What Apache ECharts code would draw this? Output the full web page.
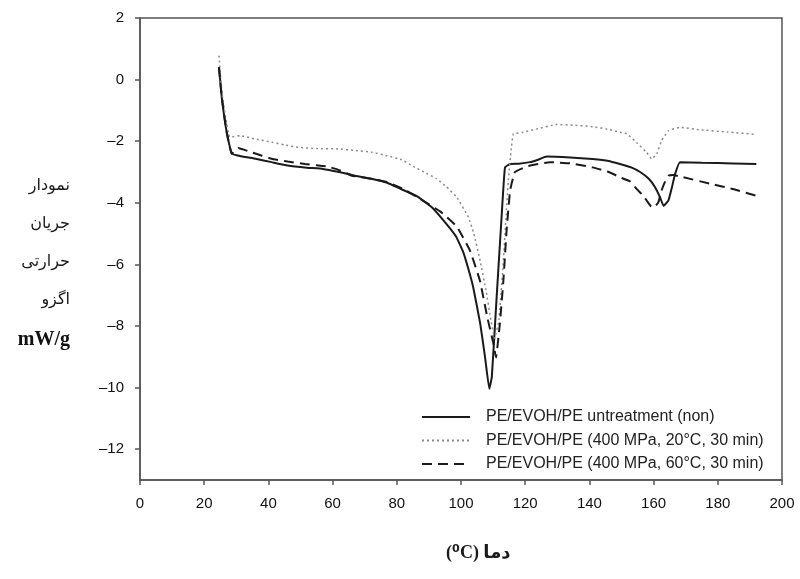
<!DOCTYPE html>
<html>
<head>
<meta charset="utf-8">
<script src="https://cdn.jsdelivr.net/npm/echarts@6/dist/echarts.min.js"></script>
<style>
  html, body { margin: 0; padding: 0; background: #ffffff; }
  #chart { width: 800px; height: 579px; }
</style>
</head>
<body>
<div id="chart"></div>
<script>
// نمونه بدون فرآوری
var tempNon = [24.6, 25.5, 27, 28.6, 32, 36, 41, 46, 52, 57, 62, 67, 72, 77, 81, 86, 91, 95.5, 98.5, 100.7,
  102.3, 103.8, 106, 107.5, 108.8, 109.6, 111.1, 112.7, 113.7, 115.3, 118, 121.5, 124, 126.7, 134, 141, 146,
  149.5, 153, 155.8, 158.5, 160.5, 162, 163.1, 164.6, 165.7, 166.7, 168.2, 175, 185, 192];
var flowNon = [0.4, -0.6, -1.7, -2.41, -2.5, -2.57, -2.68, -2.79, -2.86, -2.9, -3.0, -3.12, -3.22, -3.35, -3.54, -3.77, -4.15, -4.69, -5.1, -5.6,
  -6.15, -6.74, -7.93, -9.02, -10.04, -9.66, -7.07, -4.36, -2.85, -2.74, -2.73, -2.68, -2.6, -2.5, -2.53, -2.58, -2.64,
  -2.74, -2.85, -3.0, -3.22, -3.5, -3.82, -4.1, -3.93, -3.5, -3.06, -2.68, -2.7, -2.72, -2.74];

// 400 MPa, 20 درجه
var temp20 = [24.6, 25.5, 26.8, 28, 31.2, 36, 41, 45, 49.3, 55, 61.8, 67, 72.2, 76, 81.5, 85.1, 88.5, 92.4, 95.5, 98.7,
  102.3, 104, 106, 107.8, 109.3, 110.5, 111.8, 113, 114, 114.8, 115.6, 116.3, 119, 123.6, 129.8, 135, 141.2, 146,
  149.5, 151.6, 154.7, 157.8, 159.4, 161, 162.5, 164.6, 168.2, 174.5, 183, 192];
var flow20 = [0.78, -0.4, -1.3, -1.87, -1.82, -1.93, -2.03, -2.12, -2.2, -2.24, -2.25, -2.3, -2.36, -2.45, -2.6, -2.82, -3.0, -3.22, -3.48, -3.82,
  -4.47, -5.0, -5.9, -6.85, -7.8, -8.4, -7.8, -6.2, -4.5, -3.2, -2.3, -1.76, -1.72, -1.6, -1.46, -1.48, -1.53, -1.62,
  -1.71, -1.76, -2.04, -2.36, -2.58, -2.41, -1.98, -1.66, -1.55, -1.63, -1.7, -1.78];

// 400 MPa, 60 درجه
var temp60 = [24.6, 25.5, 27, 28.6, 30.6, 32.5, 34.8, 38, 41, 46, 51.4, 55, 58.7, 61.8, 64, 66, 72, 77, 82, 87.2,
  93.5, 98.7, 102.8, 105.9, 108.2, 110.1, 110.9, 112.1, 113.2, 114.2, 115.3, 116.8, 120.5, 127.7, 134, 141,
  146, 149.5, 152.6, 154.7, 156.8, 158.2, 159.5, 160.5, 161.5, 162.5, 163.5, 164.6, 166, 169.2, 177.6, 185, 192];
var flow60 = [0.4, -0.6, -1.7, -2.41, -2.22, -2.28, -2.36, -2.47, -2.57, -2.66, -2.74, -2.78, -2.83, -2.93, -3.02, -3.12, -3.22, -3.33, -3.55, -3.87,
  -4.28, -4.77, -5.55, -6.53, -7.72, -8.57, -9.02, -7.93, -6.53, -4.9, -3.6, -3.0, -2.82, -2.68, -2.72, -2.85,
  -3.0, -3.17, -3.3, -3.55, -3.77, -3.98, -4.15, -4.12, -3.98, -3.6, -3.33, -3.12, -3.1, -3.17, -3.38, -3.56, -3.77];

var seriesNames = [
  'PE/EVOH/PE untreatment (non)',
  'PE/EVOH/PE (400 MPa, 20°C, 30 min)',
  'PE/EVOH/PE (400 MPa, 60°C, 30 min)'
];
var yTicks = [-12, -10, -8, -6, -4, -2, 0, 2];
var yNameLines = ['نمودار', 'جریان', 'حرارتی', 'اگزو'];

function pairs(xs, ys) {
  return xs.map(function (x, i) { return [x, ys[i]]; });
}

var myChart = echarts.init(document.getElementById('chart'));

var yGraphics = yNameLines.map(function (t, i) {
  return {
    type: 'text',
    right: 730,
    top: 178 + i * 38,
    style: { text: t, font: '16px "DejaVu Sans"', fill: '#1a1a1a', textAlign: 'right' }
  };
});
yGraphics.push({
  type: 'text',
  right: 730,
  top: 330,
  style: { text: 'mW/g', font: 'bold 20px "Liberation Serif"', fill: '#111', textAlign: 'right' }
});
yGraphics.push({
  type: 'text',
  left: 446,
  top: 544,
  style: { text: '(⁰C) دما', font: 'bold 18px "Liberation Serif", "DejaVu Sans"', fill: '#1a1a1a' }
});

var lineCol = '#555';
var labelStyle = {
  fontFamily: 'Liberation Sans',
  fontSize: 15,
  color: '#111',
  margin: 16,
  formatter: function (v) { return String(v).replace('-', '–'); }
};

var option = {
  backgroundColor: '#ffffff',
  animation: false,
  grid: { left: 140, right: 18, top: 18, bottom: 99, show: true, borderColor: lineCol, borderWidth: 1.5 },
  xAxis: {
    type: 'value', min: 0, max: 200, interval: 20,
    axisLine: { show: true, onZero: false, lineStyle: { color: lineCol, width: 1.5 } },
    axisTick: { show: true, length: 5, lineStyle: { color: lineCol, width: 1.5 } },
    splitLine: { show: false },
    axisLabel: labelStyle
  },
  yAxis: {
    type: 'value', min: -13, max: 2,
    axisLine: { show: true, onZero: false, lineStyle: { color: lineCol, width: 1.5 } },
    axisTick: { show: true, length: 5, customValues: yTicks, lineStyle: { color: lineCol, width: 1.5 } },
    splitLine: { show: false },
    axisLabel: echarts.util.extend({ customValues: yTicks }, labelStyle)
  },
  legend: {
    orient: 'vertical',
    left: 416,
    top: 404,
    itemWidth: 48,
    itemHeight: 14,
    itemGap: 7.5,
    itemStyle: { opacity: 0 },
    textStyle: { fontFamily: 'Liberation Sans', fontSize: 16, color: '#222', padding: [0, 0, 0, 11] },
    data: seriesNames
  },
  graphic: yGraphics,
  series: [
    {
      name: seriesNames[0], type: 'line', symbol: 'none', smooth: 0.1,
      lineStyle: { color: '#1a1a1a', width: 2, type: 'solid' },
      itemStyle: { color: '#1a1a1a' },
      data: pairs(tempNon, flowNon)
    },
    {
      name: seriesNames[1], type: 'line', symbol: 'none', smooth: 0.1,
      lineStyle: { color: '#8a8a8a', width: 1.5, type: [2, 3] },
      itemStyle: { color: '#8a8a8a' },
      data: pairs(temp20, flow20)
    },
    {
      name: seriesNames[2], type: 'line', symbol: 'none', smooth: 0.1,
      lineStyle: { color: '#1a1a1a', width: 2, type: [10, 6] },
      itemStyle: { color: '#1a1a1a' },
      data: pairs(temp60, flow60)
    }
  ]
};

myChart.setOption(option);
</script>
</body>
</html>
